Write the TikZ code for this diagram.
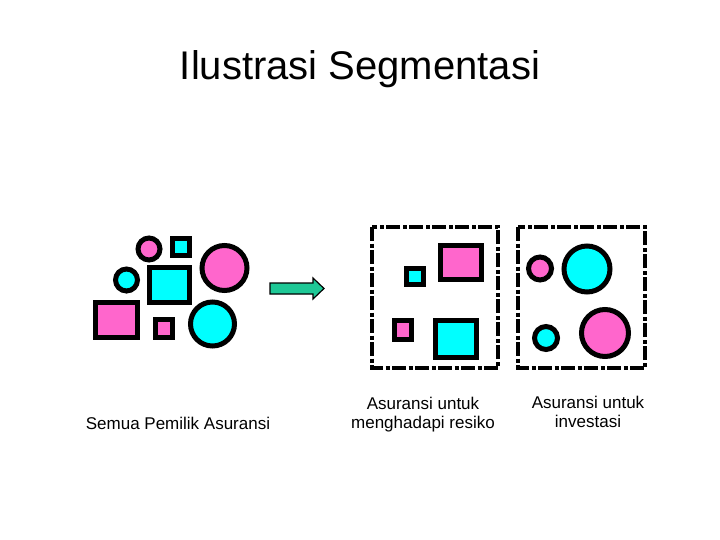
\documentclass[tikz,border=0pt]{standalone}
\usepackage{fontspec}
\setmainfont{Liberation Sans}
\usepackage{xcolor}
\usepackage{tikz}
\usetikzlibrary{positioning}

\definecolor{segpink}{RGB}{255,102,204}
\definecolor{segcyan}{RGB}{0,255,255}
\definecolor{seggreen}{RGB}{30,200,150}

\tikzset{
	pinkshape/.style={fill=segpink,draw=black,line width=5},
	cyanshape/.style={fill=segcyan,draw=black,line width=5},
	segbox/.style={draw=black,line width=4,dash pattern=on 14pt off 2.5pt on 4pt off 2.5pt},
	caption/.style={font=\fontsize{17}{19}\selectfont,align=center,inner sep=0}
}

\begin{document}
\begin{tikzpicture}[x=1pt,y=-1pt]
	\useasboundingbox (0,0) rectangle (720,540);
	\node[anchor=base,inner sep=0,font=\fontsize{40}{44}\selectfont] (title) at (360,80) {Ilustrasi Segmentasi};
	% semua pemilik
	\draw[pinkshape] (149,249) circle (11);
	\draw[cyanshape] (172.5,238.5) rectangle (189.5,255.5);
	\draw[pinkshape] (224.5,268) circle (22.5);
	\draw[cyanshape] (126.5,280) circle (11);
	\draw[cyanshape] (149.5,267.5) rectangle (189.5,302.5);
	\draw[pinkshape] (95.5,302.5) rectangle (137.5,337.5);
	\draw[pinkshape] (155.5,319.5) rectangle (172.5,337.5);
	\draw[cyanshape] (212.5,324) circle (22);
	% panah
	\filldraw[fill=seggreen,draw=black,line width=1.2] (270,283) -- (313,283) -- (313,278) -- (324,288.5) -- (313,299) -- (313,294) -- (270,294) -- cycle;
	% resiko
	\draw[segbox] (372,227) rectangle (498,368);
	\draw[pinkshape] (440.5,245.5) rectangle (481.5,279.5);
	\draw[cyanshape] (406.5,268.5) rectangle (423.5,284.5);
	\draw[pinkshape] (394.5,320.5) rectangle (411.5,339.5);
	\draw[cyanshape] (435.5,320.5) rectangle (476.5,357.5);
	% investasi
	\draw[segbox] (518,227) rectangle (645,368);
	\draw[pinkshape] (540,268.5) circle (11.5);
	\draw[cyanshape] (587,269) circle (23);
	\draw[cyanshape] (546,338) circle (11.5);
	\draw[pinkshape] (605,333) circle (23.5);
	% keterangan
	\node[caption,anchor=base] (semua) at (178,429) {Semua Pemilik Asuransi};
	\node[caption] (resiko) at (423,415) {Asuransi untuk\\menghadapi resiko};
	\node[caption] (investasi) at (588,412) {Asuransi untuk\\investasi};
\end{tikzpicture}
\end{document}
